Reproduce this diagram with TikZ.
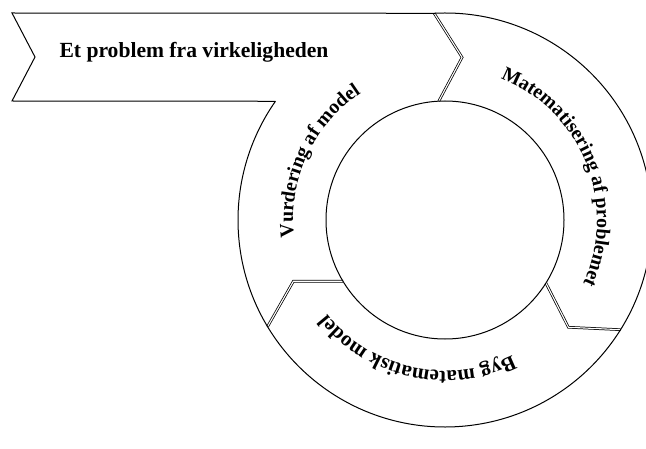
\documentclass[tikz,border=0pt]{standalone}
\usepackage{fontspec}
\setmainfont{Liberation Serif}
\usetikzlibrary{decorations.text}
\newcommand\ringfont{\fontsize{19.8}{19.8}\selectfont\bfseries}
\newcommand\bottomfont{\fontsize{21}{21}\selectfont\bfseries}
\newcommand\bannerfont{\fontsize{21.6}{21.6}\selectfont\bfseries}
\tikzset{
  ring/.style={draw=black, line width=1pt, line join=miter},
  divider/.style={draw=black, line width=0.75pt, double=white, double distance=1.1pt, line join=miter},
  ringtext/.style={decorate, decoration={text along path, text align=center, text={#1}}}
}
\begin{document}
\begin{tikzpicture}[x=1pt,y=1pt]
\useasboundingbox (0,0) rectangle (646,448);
\fill[white] (0,0) rectangle (646,448);
\coordinate (C) at (445,228);
% dividers (chevrons)
\foreach \t/\n in {93/a,-32/b,211/c}{
  \coordinate (\n i) at ([shift={(\t:119)}]C);
  \coordinate (\n m) at ([shift={(\t-9:163.5)}]C);
  \coordinate (\n o) at ([shift={(\t:207)}]C);
  \draw[divider] (\n i) -- (\n m) -- (\n o);
}
% inner circle
\node[circle, ring, minimum size=238pt, inner sep=0pt] (inner) at (C) {};
% outer ring arc
\coordinate (bj) at ([shift={(145:207)}]C);
\coordinate (tj) at ([shift={(93:207)}]C);
\draw[ring] (tj) arc[start angle=93, end angle=-215, radius=207];
% banner
\coordinate (bl) at (12,347);
\coordinate (nt) at (35,391);
\coordinate (tl) at (12,435);
\draw[ring] (bj) -- (bl) -- (nt) -- (tl) -- (tj);
\node[font=\bannerfont, anchor=base] (title) at (194,390) {Et problem fra virkeligheden};
% ring labels
\path[ringtext={|\ringfont|Vurdering af model}] ([shift={(190:152)}]C) arc[start angle=190, end angle=120, radius=152];
\path[ringtext={|\ringfont|Matematisering af problemet}] ([shift={(72:152)}]C) arc[start angle=72, end angle=-28, radius=152];
\path[ringtext={|\bottomfont|Byg matematisk model}] ([shift={(-62:151)}]C) arc[start angle=-62, end angle=-143, radius=151];
\end{tikzpicture}
\end{document}
